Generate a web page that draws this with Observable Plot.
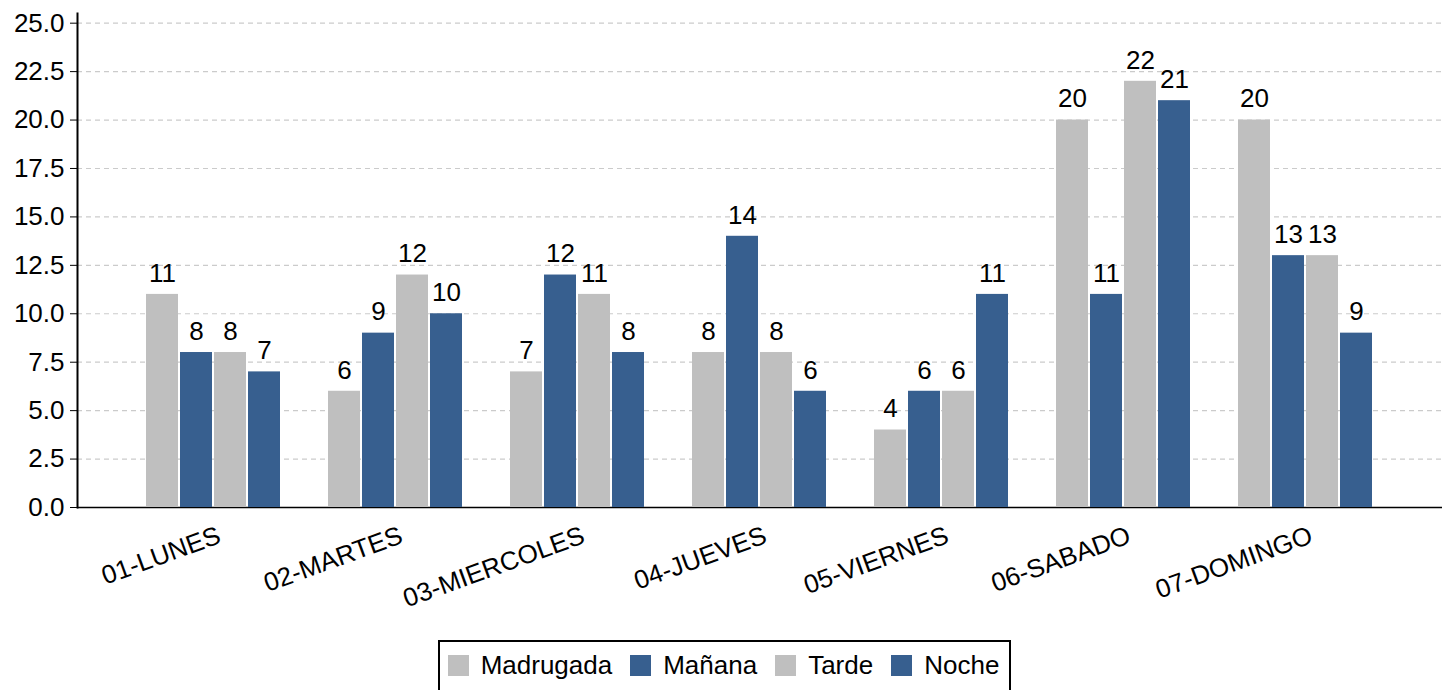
<!DOCTYPE html>
<html>
<head>
<meta charset="utf-8">
<script src="https://cdn.jsdelivr.net/npm/d3@7"></script>
<script src="https://cdn.jsdelivr.net/npm/@observablehq/plot@0.6"></script>
<style>
  html, body { margin: 0; padding: 0; background: white; }
  body { font-family: "Liberation Sans", Arial, sans-serif; width: 1449px; }
  #chart { position: relative; width: 1449px; height: 625px; }
  #chart > svg, #chart > figure { position: absolute; left: 0; top: 0; }
  #legend { margin: 15px auto 0; width: max-content; border: 2px solid #000; padding: 8px 10px 12px 8px; display: flex; align-items: center; font-size: 26px; color: #000; }
  #legend .item { display: flex; align-items: center; margin-right: 18px; }
  #legend .item:last-child { margin-right: 0; }
  #legend .sw { width: 21px; height: 21px; margin-right: 12px; }
</style>
</head>
<body>
<div id="chart"></div>
<div id="legend"></div>
<script>
const days = ["01-LUNES", "02-MARTES", "03-MIERCOLES", "04-JUEVES", "05-VIERNES", "06-SABADO", "07-DOMINGO"];
const series = ["Madrugada", "Mañana", "Tarde", "Noche"];
const madrugada = [11, 6, 7, 8, 4, 20, 20];
const manana = [8, 9, 12, 14, 6, 11, 13];
const tarde = [8, 12, 11, 8, 6, 22, 13];
const noche = [7, 10, 8, 6, 11, 21, 9];
const seriesColors = ["#bfbfbf", "#375f8f", "#bfbfbf", "#375f8f"];
const yTicks = [0, 2.5, 5, 7.5, 10, 12.5, 15, 17.5, 20, 22.5, 25];

const valuesBySeries = [madrugada, manana, tarde, noche];
const data = [];
days.forEach((day, i) => {
  series.forEach((s, j) => data.push({day, serie: s, value: valuesBySeries[j][i]}));
});

const W = 1449, H = 625, ML = 77, MR = 7, MT = 13, MB = 118;
const font = {fontFamily: "'Liberation Sans', Arial, sans-serif", fontSize: "26px", background: "transparent", color: "#000"};

const back = Plot.plot({
  width: W, height: H,
  marginLeft: ML, marginRight: MR, marginTop: MT, marginBottom: MB,
  style: font,
  y: {domain: [0, 25.5], ticks: yTicks, tickFormat: d3.format(".1f"), tickSize: 7, tickPadding: 6, label: null},
  marks: [
    Plot.ruleY(yTicks, {stroke: "#cbcbcb", strokeWidth: 1.2, strokeDasharray: "5,4"}),
    Plot.frame({anchor: "left", stroke: "#000", strokeWidth: 2}),
    Plot.ruleY([0], {stroke: "#000", strokeWidth: 1.5})
  ]
});

const hasAxisMarks = typeof Plot.axisFx === "function";
const fxAxisOpts = {tickRotate: -20, tickSize: 0, tickPadding: 27, label: null};

const front = Plot.plot({
  width: W, height: H,
  marginLeft: ML, marginRight: MR, marginTop: MT, marginBottom: MB,
  style: font,
  facet: {data, x: "day"},
  fx: hasAxisMarks
    ? {domain: days, paddingInner: 0.24, paddingOuter: 0.37, axis: null, label: null}
    : {domain: days, paddingInner: 0.24, paddingOuter: 0.37, axis: "bottom", ...fxAxisOpts},
  x: {domain: series, paddingInner: 0.05, paddingOuter: 0, axis: null},
  y: {domain: [0, 25.5], axis: null},
  color: {domain: series, range: seriesColors},
  marks: [
    Plot.barY(data, {x: "serie", y: "value", fill: "serie"}),
    Plot.text(data, {x: "serie", y: "value", text: d => String(d.value), dy: -21, fontSize: 26, fill: "#000"}),
    hasAxisMarks ? Plot.axisFx({...fxAxisOpts, anchor: "bottom", dx: 6, fontSize: 26}) : null
  ]
});

const chart = document.getElementById("chart");
chart.appendChild(back);
chart.appendChild(front);

const legend = document.getElementById("legend");
series.forEach((s, j) => {
  const item = document.createElement("div");
  item.className = "item";
  const sw = document.createElement("div");
  sw.className = "sw";
  sw.style.background = seriesColors[j];
  const label = document.createElement("span");
  label.textContent = s;
  item.appendChild(sw);
  item.appendChild(label);
  legend.appendChild(item);
});
</script>
</body>
</html>
